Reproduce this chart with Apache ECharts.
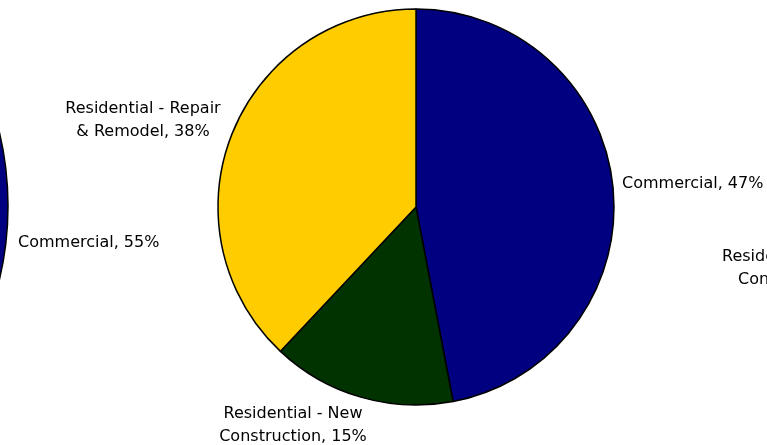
<!DOCTYPE html>
<html><head><meta charset="utf-8">
<script src="https://cdn.jsdelivr.net/npm/echarts@6/dist/echarts.min.js"></script>
<style>html,body{margin:0;padding:0;background:#fff}#c{width:767px;height:445px}</style>
</head><body><div id="c"></div>
<script>
const categories = ['Commercial', 'Residential - New Construction', 'Residential - Repair & Remodel'];
const labelNames = ['Commercial', 'Residential - New\nConstruction', 'Residential - Repair\n& Remodel'];
const leftValues = [55, 10, 35];
const centerValues = [47, 15, 38];
const rightValues = [45, 9, 46];
const colors = ['#000080', '#003300', '#FFCC00'];

// label anchor positions (x, y, align) per series / slice; null = off-screen
const labelPos = [
  [{x: 18, y: 243, align: 'left'}, null, null],
  [{x: 622, y: 184, align: 'left'}, {x: 293, y: 425, align: 'center'}, {x: 143, y: 120, align: 'center'}],
  [null, {x: 722, y: 268, align: 'left'}, null]
];

function buildData(values, si) {
  return categories.map((c, i) => ({
    name: c,
    value: values[i],
    itemStyle: {color: colors[i]},
    label: {show: !!labelPos[si][i]}
  }));
}

const textStyle = {fontFamily: 'DejaVu Sans', fontSize: 16, color: '#000', lineHeight: 23};

function fmt(p) {
  return labelNames[p.dataIndex] + ', ' + p.value + '%';
}
function fmtRight(p) {
  const parts = labelNames[p.dataIndex].split('\n');
  return '{a|' + parts[0] + '}\n{b|' + parts[1] + ', ' + p.value + '%}';
}

function makeSeries(values, si, center, radius, formatter) {
  return {
    type: 'pie',
    center: center,
    radius: radius,
    startAngle: 90,
    clockwise: true,
    avoidLabelOverlap: false,
    silent: true,
    data: buildData(values, si),
    itemStyle: {borderColor: '#000', borderWidth: 1.5},
    label: Object.assign({
      position: 'outside',
      formatter: formatter,
      rich: {
        a: Object.assign({}, textStyle),
        b: Object.assign({}, textStyle, {padding: [0, 0, 0, 16]})
      }
    }, textStyle),
    labelLine: {show: false},
    labelLayout: function (p) {
      const lp = labelPos[p.seriesIndex][p.dataIndex];
      if (!lp) return {};
      return {x: lp.x, y: lp.y, align: lp.align, verticalAlign: 'middle'};
    }
  };
}

const chart = echarts.init(document.getElementById('c'), null, {renderer: 'canvas'});
chart.setOption({
  backgroundColor: '#fff',
  animation: false,
  series: [
    makeSeries(leftValues, 0, [-312, 206], 320, fmt),
    makeSeries(centerValues, 1, [416, 207], 198, fmt),
    makeSeries(rightValues, 2, [1150, 207], 198, fmtRight)
  ]
});
</script>
</body></html>
